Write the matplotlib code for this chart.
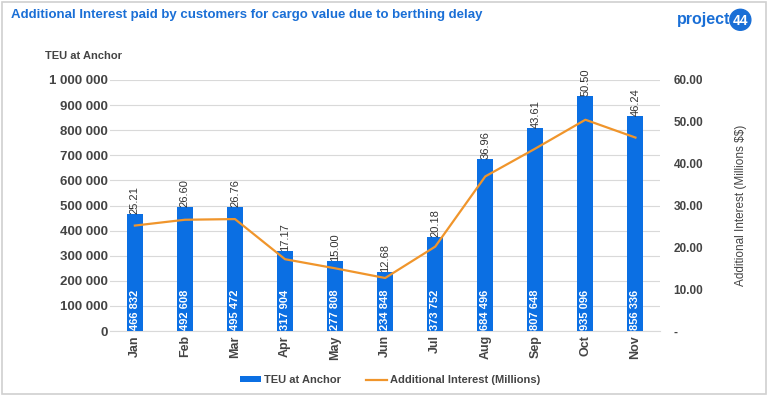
import matplotlib
matplotlib.use("Agg")
import matplotlib.pyplot as plt
from matplotlib.patches import Rectangle, Ellipse
from matplotlib.ticker import FuncFormatter

plt.rcParams["font.family"] = ["Liberation Sans", "DejaVu Sans"]

# ── Data ──────────────────────────────────────────────────────────────────────
MONTHS = ["Jan", "Feb", "Mar", "Apr", "May", "Jun", "Jul", "Aug", "Sep", "Oct", "Nov"]
TEU = [466832, 492608, 495472, 317904, 277808, 234848, 373752, 684496, 807648, 935096, 856336]
INTEREST = [25.21, 26.60, 26.76, 17.17, 15.00, 12.68, 20.18, 36.96, 43.61, 50.50, 46.24]

BLUE, ORANGE, INK, GRID = "#0b6fe3", "#f0952b", "#444444", "#d9d9d9"
TITLE_BLUE = "#1a6fd6"

fig = plt.figure(figsize=(7.68, 3.96), dpi=100)
fig.patch.set_facecolor("white")
ax = fig.add_axes([0.143, 0.164, 0.717, 0.634])
ax2 = ax.twinx()

x = list(range(len(MONTHS)))
ax.bar(x, TEU, width=0.32, color=BLUE, zorder=3, label="TEU at Anchor")
ax.set_xlim(-0.5, len(MONTHS) - 0.5)
ax.set_ylim(0, 1_000_000)
ax.set_yticks(range(0, 1_000_001, 100_000))
ax.yaxis.set_major_formatter(FuncFormatter(lambda v, p: f"{int(v):,}".replace(",", " ")))
ax.grid(axis="y", color=GRID, linewidth=0.8, zorder=0)
ax.set_axisbelow(True)
ax.set_xticks(x)
ax.set_xticklabels(MONTHS, rotation=90)
for s in ("top", "right", "left"):
    ax.spines[s].set_visible(False)
ax2.spines[:].set_visible(False)
ax.spines["bottom"].set_color(GRID)
ax.tick_params(axis="both", length=0, colors=INK, labelsize=9.5)
ax.tick_params(axis="x", labelsize=9, pad=3)
ax.tick_params(axis="y", pad=1.5)
for t in ax.get_xticklabels() + ax.get_yticklabels():
    t.set_fontweight("bold")

for xi, v, iv in zip(x, TEU, INTEREST):
    ax.text(xi, 6000, f"{v:,}".replace(",", " "), rotation=90, ha="center", va="bottom",
            color="white", fontsize=8, fontweight="bold", zorder=5)
    ax.text(xi, v, f"{iv:.2f}", rotation=90, ha="center", va="bottom",
            color="#333333", fontsize=8, zorder=5)

ax2.plot(x, INTEREST, color=ORANGE, linewidth=1.6, zorder=4, label="Additional Interest (Millions)")
ax2.set_ylim(0, 60)
ax2.set_yticks(range(0, 61, 10))
ax2.yaxis.set_major_formatter(FuncFormatter(lambda v, p: "-" if v == 0 else f"{v:.2f}"))
ax2.tick_params(axis="y", length=0, colors=INK, labelsize=8.5, pad=9.5)
for t in ax2.get_yticklabels():
    t.set_fontweight("bold")
ax2.set_ylabel(r"Additional Interest (Millions \$\$)", color=INK, fontsize=8.5, labelpad=23)

fig.text(0.059, 0.859, "TEU at Anchor", color=INK, fontsize=8, fontweight="bold", va="center")

# legend
h1, l1 = ax.get_legend_handles_labels()
h2, l2 = ax2.get_legend_handles_labels()
fig.legend(h1 + h2, l1 + l2, loc="center", bbox_to_anchor=(0.508, 0.04), ncol=2,
           frameon=False, handlelength=1.9, handleheight=0.45, handletextpad=0.3,
           columnspacing=2.2, labelcolor=INK, prop={"weight": "bold", "size": 8})

# header
fig.text(0.014, 0.962, "Additional Interest paid by customers for cargo value due to berthing delay",
         color=TITLE_BLUE, fontsize=9.5, fontweight="bold", va="center")
fig.text(0.951, 0.950, "project", color=TITLE_BLUE, fontsize=11.5, fontweight="bold",
         va="center", ha="right")
fig.patches.append(Ellipse((0.964, 0.950), 21 / 768, 21 / 396, transform=fig.transFigure,
                           figure=fig, color=TITLE_BLUE))
fig.text(0.964, 0.948, "44", color="white", fontsize=10, fontweight="bold", va="center", ha="center")

# frame
fig.patches.append(Rectangle((0.002, 0.004), 0.996, 0.992, transform=fig.transFigure, figure=fig,
                             fill=False, edgecolor="#d0d0d0", linewidth=1.2))

fig.savefig("out.png", dpi=100, facecolor="white")
